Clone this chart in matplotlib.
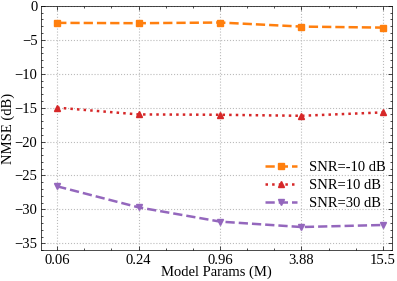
import matplotlib
matplotlib.use('Agg')
import matplotlib.pyplot as plt
from matplotlib.ticker import AutoMinorLocator, MultipleLocator

# model sizes (categorical x axis)
params = ['0.06', '0.24', '0.96', '3.88', '15.5']
snr_m10 = [-2.5, -2.55, -2.45, -3.05, -3.2]
snr_10 = [-15.0, -16.0, -16.05, -16.2, -15.7]
snr_30 = [-26.6, -29.7, -31.8, -32.6, -32.3]

plt.rcParams['font.family'] = ['Liberation Serif', 'DejaVu Serif']
plt.rcParams['mathtext.fontset'] = 'stix'
plt.rcParams['font.size'] = 10.5
plt.rcParams['xtick.direction'] = 'in'
plt.rcParams['ytick.direction'] = 'in'
plt.rcParams['xtick.top'] = True
plt.rcParams['ytick.right'] = True
plt.rcParams['xtick.minor.visible'] = True
plt.rcParams['ytick.minor.visible'] = True
plt.rcParams['xtick.major.size'] = 3
plt.rcParams['ytick.major.size'] = 3
plt.rcParams['xtick.minor.size'] = 1.5
plt.rcParams['ytick.minor.size'] = 1.5
plt.rcParams['xtick.major.pad'] = 2.5
plt.rcParams['ytick.major.pad'] = 2.5
plt.rcParams['axes.linewidth'] = 0.5

fig, ax = plt.subplots(figsize=(3.97, 2.81), dpi=100)
fig.subplots_adjust(left=0.103, right=0.987, top=0.979, bottom=0.110)

x = list(range(len(params)))
ax.plot(x, snr_m10, color='#ff7f0e', linestyle='--', marker='s', markersize=4.5,
        linewidth=1.8, label='SNR=-10 dB')
ax.plot(x, snr_10, color='#d62728', linestyle=':', marker='^', markersize=4.5,
        linewidth=1.8, label='SNR=10 dB')
ax.plot(x, snr_30, color='#9467bd', linestyle='--', marker='v', markersize=4.5,
        linewidth=1.8, label='SNR=30 dB')

ax.set_xticks(x)
ax.set_xticklabels(params)
ax.xaxis.set_minor_locator(AutoMinorLocator(3))
ax.set_xlim(-0.2, 4.11)
ax.set_ylim(-36, 0)
ax.yaxis.set_major_locator(MultipleLocator(5))
ax.yaxis.set_minor_locator(MultipleLocator(1))
ax.tick_params(which='both', width=0.5)

ax.grid(True, which='major', linestyle=':', color='#bbbbbb', linewidth=0.8)
ax.set_xlabel('Model Params (M)', labelpad=-0.5)
ax.set_ylabel('NMSE (dB)', labelpad=-0.5)

ax.legend(loc='center right', bbox_to_anchor=(1.02, 0.265), frameon=False,
          handlelength=2.2, labelspacing=0.35)

fig.savefig('out.png', dpi=100)
